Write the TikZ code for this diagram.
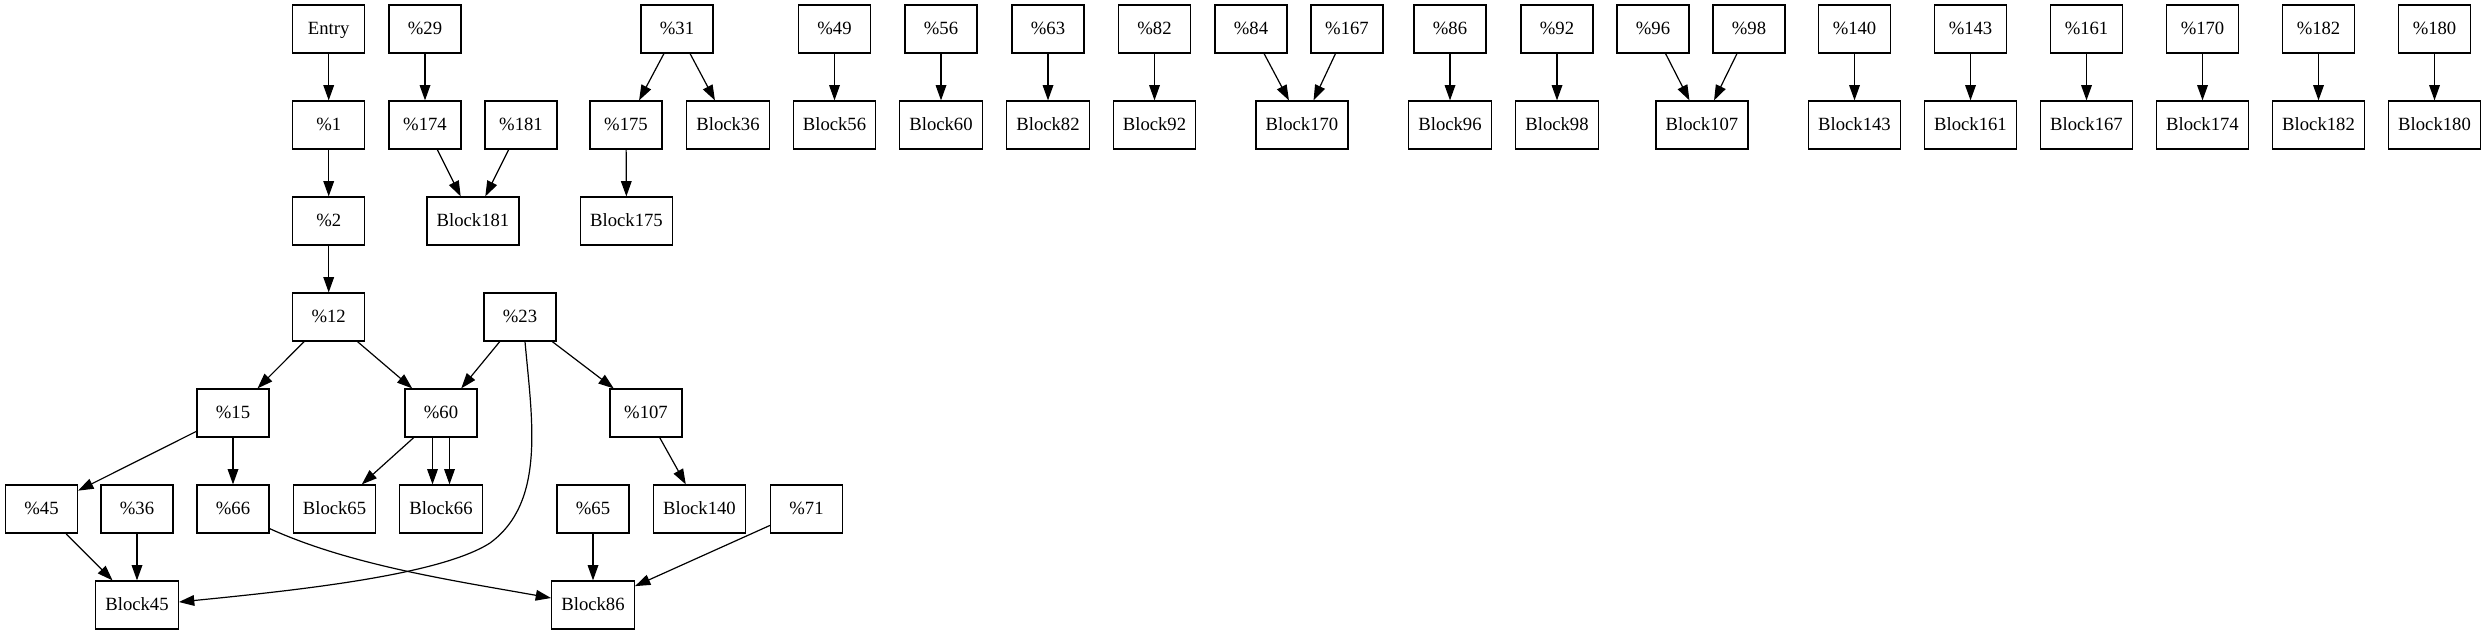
\documentclass[tikz,border=0pt]{standalone}
\usepackage{fontspec}
\setmainfont{Liberation Serif}
\usetikzlibrary{arrows.meta,calc}
\begin{document}
\begin{tikzpicture}[x=0.75pt,y=-0.75pt,
  blk/.style={draw, line width=0.9pt, rectangle, minimum width=54pt, minimum height=36pt,
    inner xsep=7.3pt, inner ysep=0pt, font=\fontsize{14pt}{16pt}\selectfont,
    text height=9.3pt, text depth=1pt},
  edge/.style={line width=0.9pt, -{Triangle[length=11.5pt,width=8pt]}}]
\useasboundingbox (0,0) rectangle (2486,635);
% rank 1
\node[blk] (entry) at (328.7,29) {Entry};
\node[blk] (p29) at (425,29) {\%29};
\node[blk] (p31) at (677,29) {\%31};
\node[blk] (p49) at (834.5,29) {\%49};
\node[blk] (p56) at (941,29) {\%56};
\node[blk] (p63) at (1048,29) {\%63};
\node[blk] (p82) at (1154.5,29) {\%82};
\node[blk] (p84) at (1251,29) {\%84};
\node[blk] (p167) at (1347,29) {\%167};
\node[blk] (p86) at (1450,29) {\%86};
\node[blk] (p92) at (1557,29) {\%92};
\node[blk] (p96) at (1653,29) {\%96};
\node[blk] (p98) at (1749,29) {\%98};
\node[blk] (p140) at (1854.5,29) {\%140};
\node[blk] (p143) at (1970.5,29) {\%143};
\node[blk] (p161) at (2086.5,29) {\%161};
\node[blk] (p170) at (2202.5,29) {\%170};
\node[blk] (p182) at (2318.5,29) {\%182};
\node[blk] (p180) at (2434.5,29) {\%180};
% rank 2
\node[blk] (p1) at (328.7,125) {\%1};
\node[blk] (p174) at (425,125) {\%174};
\node[blk] (p181) at (521,125) {\%181};
\node[blk] (p175) at (626,125) {\%175};
\node[blk] (b36) at (728,125) {Block36};
\node[blk] (b56) at (834.5,125) {Block56};
\node[blk] (b60) at (941,125) {Block60};
\node[blk] (b82) at (1048,125) {Block82};
\node[blk] (b92) at (1154.5,125) {Block92};
\node[blk] (b170) at (1302,125) {Block170};
\node[blk] (b96) at (1450,125) {Block96};
\node[blk] (b98) at (1557,125) {Block98};
\node[blk] (b107) at (1702,125) {Block107};
\node[blk] (b143) at (1854.5,125) {Block143};
\node[blk] (b161) at (1970.5,125) {Block161};
\node[blk] (b167) at (2086.5,125) {Block167};
\node[blk] (b174) at (2202.5,125) {Block174};
\node[blk] (b182) at (2318.5,125) {Block182};
\node[blk] (b180) at (2434.5,125) {Block180};
% rank 3
\node[blk] (p2) at (328.7,221) {\%2};
\node[blk] (b181) at (473,221) {Block181};
\node[blk] (b175) at (626.5,221) {Block175};
% rank 4
\node[blk] (p12) at (328.7,317) {\%12};
\node[blk] (p23) at (520,317) {\%23};
% rank 5
\node[blk] (p15) at (233,413) {\%15};
\node[blk] (p60) at (441,413) {\%60};
\node[blk] (p107) at (646,413) {\%107};
% rank 6
\node[blk] (p45) at (41.5,509) {\%45};
\node[blk] (p36) at (137,509) {\%36};
\node[blk] (p66) at (233,509) {\%66};
\node[blk] (b65) at (334.5,509) {Block65};
\node[blk] (b66) at (441,509) {Block66};
\node[blk] (p65) at (593,509) {\%65};
\node[blk] (b140) at (699.5,509) {Block140};
\node[blk] (p71) at (806.5,509) {\%71};
% rank 7
\node[blk] (b45) at (137,605) {Block45};
\node[blk] (b86) at (593,605) {Block86};
% edges
\draw[edge] (entry) -- (p1);
\draw[edge] (p1) -- (p2);
\draw[edge] (p2) -- (p12);
\draw[edge] (p29) -- (p174);
\draw[edge] (p174) -- (b181);
\draw[edge] (p181) -- (b181);
\draw[edge] (p31) -- (p175);
\draw[edge] (p31) -- (b36);
\draw[edge] (p175) -- (b175);
\draw[edge] (p49) -- (b56);
\draw[edge] (p56) -- (b60);
\draw[edge] (p63) -- (b82);
\draw[edge] (p82) -- (b92);
\draw[edge] (p84) -- (b170);
\draw[edge] (p167) -- (b170);
\draw[edge] (p86) -- (b96);
\draw[edge] (p92) -- (b98);
\draw[edge] (p96) -- (b107);
\draw[edge] (p98) -- (b107);
\draw[edge] (p140) -- (b143);
\draw[edge] (p143) -- (b161);
\draw[edge] (p161) -- (b167);
\draw[edge] (p170) -- (b174);
\draw[edge] (p182) -- (b182);
\draw[edge] (p180) -- (b180);
\draw[edge] (p12) -- (p15);
\draw[edge] (p12) -- (p60);
\draw[edge] (p23) -- (p60);
\draw[edge] (p23) -- (p107);
\draw[edge] ($(p23.south)+(5,0)$) .. controls (532,420) and (546,502) .. (490,543)
  .. controls (440,575) and (300,590) .. ($(b45.east)+(0,-3)$);
\draw[edge] (p15) -- (p45);
\draw[edge] (p15) -- (p66);
\draw[edge] (p60) -- (b65);
\draw[edge] ($(p60.south)+(-8.5,0)$) -- ($(b66.north)+(-8.5,0)$);
\draw[edge] ($(p60.south)+(8.5,0)$) -- ($(b66.north)+(8.5,0)$);
\draw[edge] (p107) -- (b140);
\draw[edge] (p45) -- (b45);
\draw[edge] (p36) -- (b45);
\draw[edge] ($(p66.south east)+(0,-5)$) .. controls (350,565) and (450,580) .. ($(b86.west)+(0,-7)$);
\draw[edge] (p65) -- (b86);
\draw[edge] (p71) -- (b86);
\end{tikzpicture}
\end{document}
